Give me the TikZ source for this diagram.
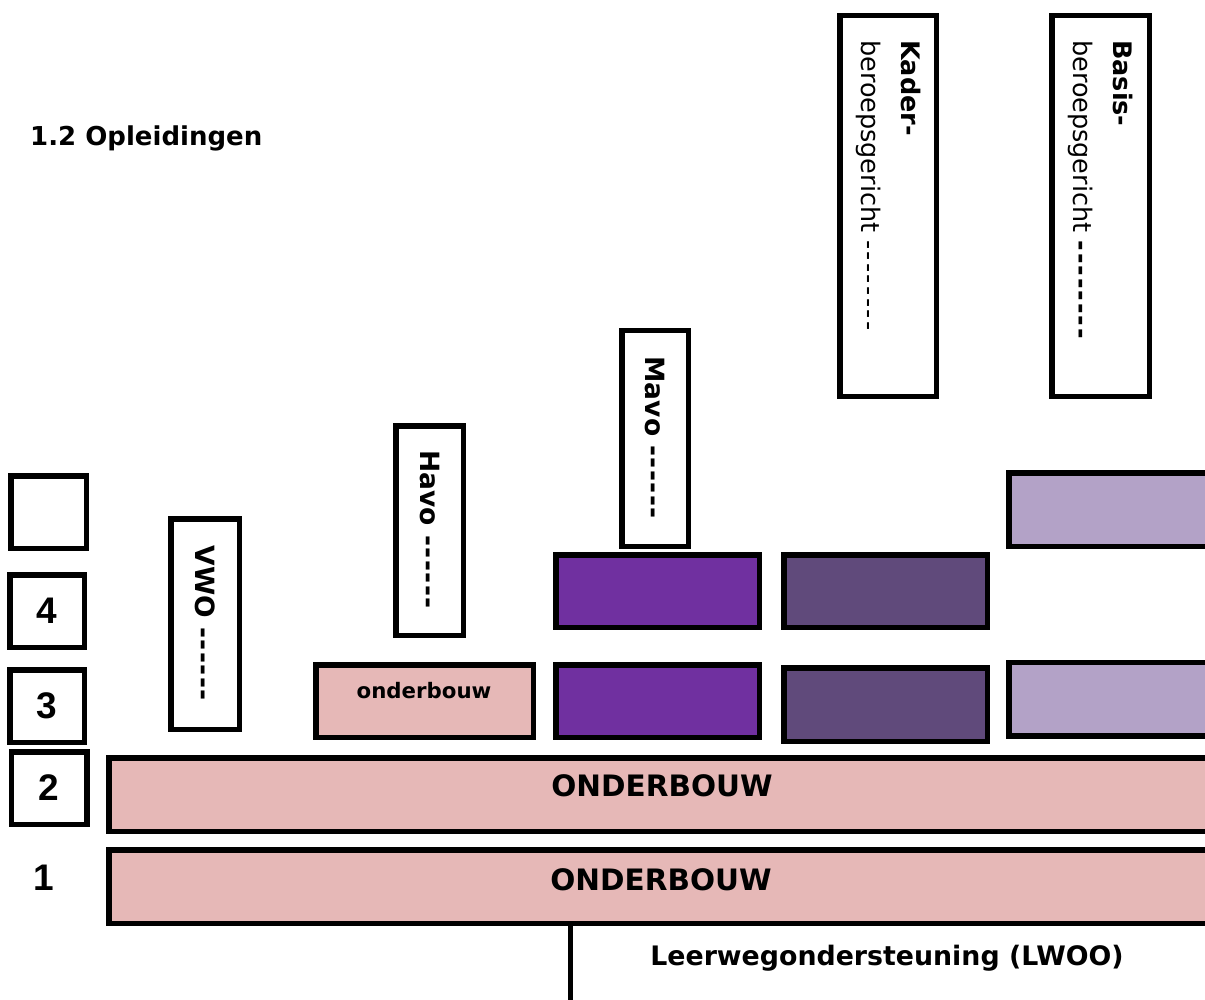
\documentclass[tikz,border=0pt]{standalone}
\usepackage{fontspec}
\setmainfont{DejaVu Sans}[Ligatures=TeXOff]
\newfontfamily\arialfont{Liberation Sans}
\definecolor{pinkfill}{HTML}{E6B8B7}
\definecolor{purplefill}{HTML}{7030A0}
\definecolor{darkpurple}{HTML}{604A7B}
\definecolor{lightpurple}{HTML}{B3A2C7}
\newcommand\hyk[1]{-\kern#1}
\newcommand\dashrow[2]{\count255=0 \loop\ifnum\count255<#1 -\kern#2\advance\count255 by 1 \repeat}
\begin{document}
\begin{tikzpicture}[x=1pt,y=-1pt,
  bx/.style={draw=black, line width=5.5pt, inner sep=0pt},
  vtext/.style={rotate=-90, font=\bfseries\fontsize{26.5}{30}\selectfont, inner sep=0pt},
  numtext/.style={font=\arialfont\bfseries\fontsize{37}{42}\selectfont},
  bigtext/.style={font=\bfseries\fontsize{29.5}{34}\selectfont}]
\useasboundingbox (0,0) rectangle (1205,1000);
% title
\node[anchor=west, font=\bfseries\fontsize{26}{30}\selectfont, inner sep=0pt] (title) at (30,138) {1.2 Opleidingen};
% year boxes
\node[bx, minimum width=75.5pt, minimum height=72.5pt] (y5) at (48.5,512) {};
\node[bx, minimum width=74.5pt, minimum height=72.5pt, numtext] (y4) at (47,611) {4};
\node[bx, minimum width=74.5pt, minimum height=72.5pt, numtext] (y3) at (47,706) {3};
\node[bx, minimum width=75.5pt, minimum height=72.5pt, numtext] (y2) at (49,788) {2};
\node[numtext] (y1) at (44,878) {1};
% vertical labelled boxes
\node[bx, minimum width=68.5pt, minimum height=210.5pt] (vwo) at (205,624) {};
\node[vtext] (vwot) at (vwo.center) {VWO \dashrow{6}{1.5pt}};
\node[bx, minimum width=67.5pt, minimum height=209.5pt] (havo) at (429.5,530.5) {};
\node[vtext] (havot) at (havo.center) {Havo \dashrow{6}{1.5pt}};
\node[bx, minimum width=66.5pt, minimum height=215.5pt] (mavo) at (655,438.5) {};
\node[vtext] (mavot) at (mavo.center) {Mavo \dashrow{6}{1.5pt}};
\node[bx, minimum width=96.5pt, minimum height=381pt] (kader) at (888.3,206) {};
\node[rotate=-90, anchor=west, align=left, inner sep=0pt, font=\fontsize{25.5}{40}\selectfont] (kadert) at (888.3,40) {\textbf{Kader-}\\beroepsgericht \dashrow{8}{2.3pt}};
\node[bx, minimum width=97.5pt, minimum height=381pt] (basis) at (1100.5,206) {};
\node[rotate=-90, anchor=west, align=left, inner sep=0pt, font=\fontsize{25.5}{40}\selectfont] (basist) at (1100.5,40) {\textbf{Basis-}\\beroepsgericht \textbf{\dashrow{8}{2pt}}};
% coloured blocks
\node[bx, fill=pinkfill, minimum width=217.5pt, minimum height=72.5pt] (ob3) at (424.5,701) {};
\node[font=\bfseries\fontsize{21.3}{25}\selectfont] (ob3t) at (424,691) {onderbouw};
\node[bx, fill=purplefill, minimum width=203.5pt, minimum height=72.5pt] (m4) at (657.5,591) {};
\node[bx, fill=purplefill, minimum width=203.5pt, minimum height=72.5pt] (m3) at (657.5,701) {};
\node[bx, fill=darkpurple, minimum width=203.5pt, minimum height=72.5pt] (k4) at (885.5,591) {};
\node[bx, fill=darkpurple, minimum width=203.5pt, minimum height=73.5pt] (k3) at (885.5,704.5) {};
\node[bx, fill=lightpurple, minimum width=218.5pt, minimum height=73.5pt] (b4) at (1118,509.5) {};
\node[bx, fill=lightpurple, minimum width=218.5pt, minimum height=73.5pt] (b3) at (1118,699) {};
\node[bx, fill=pinkfill, minimum width=1118.5pt, minimum height=73.5pt] (o2) at (668,794.5) {};
\node[bigtext] (o2t) at (662,786) {ONDERBOUW};
\node[bx, fill=pinkfill, minimum width=1118.5pt, minimum height=73.5pt] (o1) at (668,886.5) {};
\node[bigtext] (o1t) at (661,880) {ONDERBOUW};
% LWOO
\coordinate (lw) at (570,1010);
\draw[line width=5pt] (o1.south -| lw) -- (lw);
\node[font=\bfseries\fontsize{26.8}{30}\selectfont] (lwoo) at (887,958) {Leerwegondersteuning (LWOO)};
\end{tikzpicture}
\end{document}
